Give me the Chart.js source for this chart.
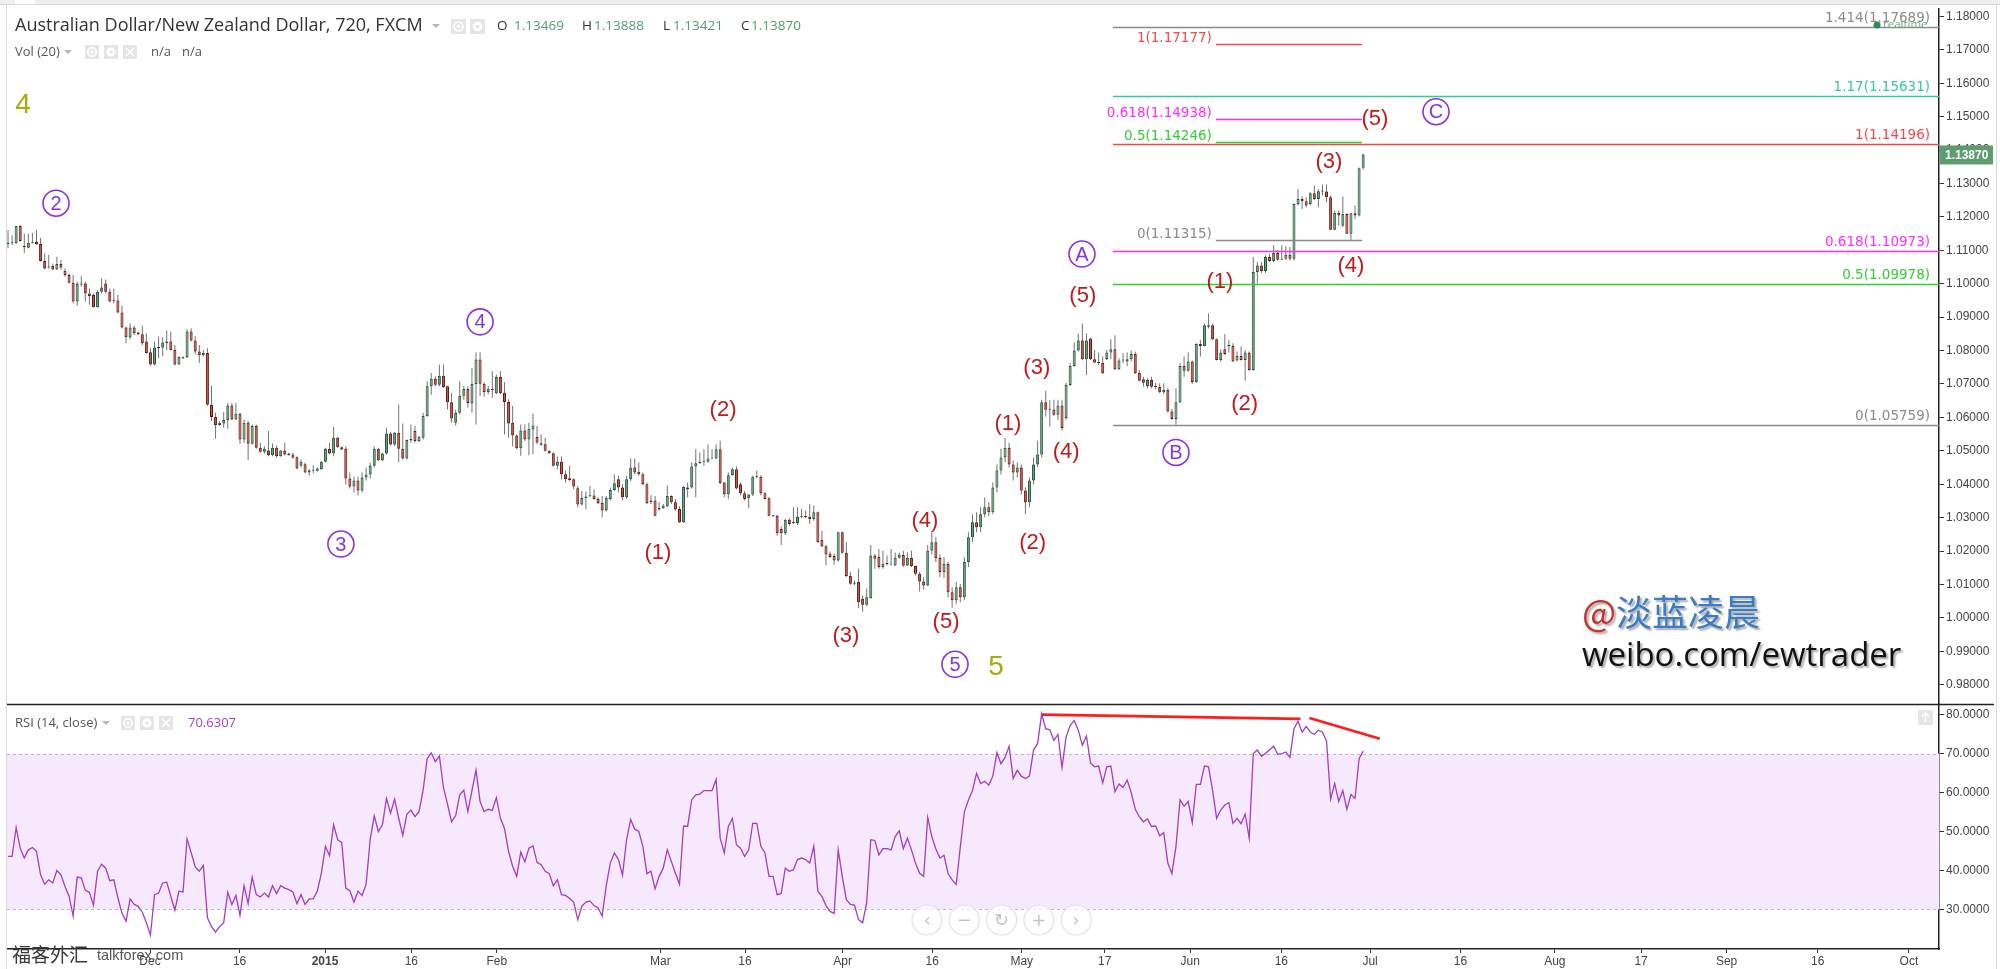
<!DOCTYPE html>
<html>
<head>
<meta charset="utf-8">
<script src="https://cdn.jsdelivr.net/npm/chart.js@4.4.1/dist/chart.umd.min.js"></script>
<style>
html, body { margin: 0; padding: 0; background: #fff; overflow: hidden; }
canvas { display: block; }
</style>
</head>
<body>
<canvas id="chart" width="2000" height="969"></canvas>
<script>
// AUD/NZD, 720 min bars (FXCM), Nov 2014 - Jun 2015
const opens = [
  1.1119,1.1121,1.1121,1.1173,1.1113,1.1108,1.1123,1.1126,1.1119,1.1068,
  1.1049,1.1053,1.1043,1.1059,1.1039,1.1026,1.1003,1.0947,1.0999,1.1001,
  1.0971,1.0966,1.0930,1.0976,1.1001,1.0976,1.0950,1.0950,1.0914,1.0869,
  1.0840,1.0869,1.0854,1.0849,1.0827,1.0795,1.0758,1.0809,1.0809,1.0822,
  1.0827,1.0802,1.0758,1.0780,1.0780,1.0857,1.0830,1.0797,1.0786,1.0793,
  1.0638,1.0601,1.0577,1.0582,1.0592,1.0636,1.0594,1.0611,1.0534,1.0584,
  1.0521,1.0574,1.0509,1.0497,1.0501,1.0487,1.0509,1.0484,1.0501,1.0492,
  1.0489,1.0481,1.0455,1.0460,1.0435,1.0440,1.0440,1.0445,1.0467,1.0506,
  1.0492,1.0539,1.0511,1.0506,1.0417,1.0393,1.0411,1.0381,1.0420,1.0429,
  1.0455,1.0506,1.0472,1.0492,1.0552,1.0519,1.0554,1.0506,1.0477,1.0531,
  1.0559,1.0529,1.0539,1.0604,1.0693,1.0716,1.0698,1.0725,1.0693,1.0645,
  1.0584,1.0614,1.0665,1.0685,1.0642,1.0700,1.0773,1.0701,1.0676,1.0684,
  1.0672,1.0721,1.0674,1.0646,1.0584,1.0546,1.0508,1.0561,1.0534,1.0564,
  1.0541,1.0523,1.0520,1.0500,1.0493,1.0455,1.0467,1.0430,1.0418,1.0415,
  1.0388,1.0339,1.0359,1.0364,1.0366,1.0356,1.0344,1.0321,1.0356,1.0383,
  1.0415,1.0390,1.0361,1.0415,1.0450,1.0437,1.0430,1.0400,1.0346,1.0351,
  1.0324,1.0328,1.0334,1.0365,1.0346,1.0326,1.0286,1.0390,1.0390,1.0453,
  1.0463,1.0467,1.0467,1.0477,1.0477,1.0505,1.0405,1.0370,1.0427,1.0445,
  1.0400,1.0373,1.0358,1.0369,1.0422,1.0422,1.0373,1.0358,1.0306,1.0306,
  1.0266,1.0253,1.0294,1.0284,1.0284,1.0303,1.0303,1.0303,1.0296,1.0316,
  1.0234,1.0214,1.0192,1.0185,1.0172,1.0256,1.0195,1.0125,1.0102,1.0107,
  1.0057,1.0039,1.0059,1.0187,1.0182,1.0152,1.0162,1.0160,1.0157,1.0180,
  1.0188,1.0157,1.0179,1.0155,1.0132,1.0109,1.0097,1.0202,1.0226,1.0179,
  1.0137,1.0161,1.0077,1.0053,1.0092,1.0062,1.0167,1.0241,1.0286,1.0271,
  1.0310,1.0331,1.0316,1.0390,1.0441,1.0480,1.0509,1.0459,1.0435,1.0450,
  1.0381,1.0346,1.0411,1.0459,1.0489,1.0645,1.0623,1.0623,1.0608,1.0636,
  1.0598,1.0697,1.0754,1.0800,1.0830,1.0774,1.0836,1.0774,1.0764,1.0763,
  1.0775,1.0794,1.0804,1.0744,1.0770,1.0767,1.0774,1.0790,1.0734,1.0714,
  1.0694,1.0712,1.0692,1.0691,1.0675,1.0682,1.0618,1.0595,1.0645,1.0754,
  1.0740,1.0767,1.0706,1.0820,1.0814,1.0871,1.0876,1.0834,1.0772,1.0804,
  1.0817,1.0814,1.0770,1.0784,1.0772,1.0794,1.0742,1.1035,1.1055,1.1038,
  1.1080,1.1068,1.1092,1.1072,1.1075,1.1087,1.1075,1.1239,1.1254,1.1247,
  1.1239,1.1271,1.1254,1.1277,1.1276,1.1259,1.1162,1.1212,1.1174,1.1209,
  1.1150,1.1211,1.1204,1.13469
];
const highs = [
  1.1160,1.1145,1.1173,1.1175,1.1150,1.1150,1.1152,1.1162,1.1138,1.1091,
  1.1086,1.1061,1.1081,1.1071,1.1046,1.1031,1.1026,1.1006,1.1023,1.1006,
  1.0986,1.0971,1.0981,1.1016,1.1013,1.0986,1.0986,1.0967,1.0934,1.0872,
  1.0882,1.0874,1.0857,1.0874,1.0852,1.0807,1.0827,1.0842,1.0840,1.0860,
  1.0857,1.0817,1.0783,1.0783,1.0864,1.0867,1.0844,1.0817,1.0802,1.0807,
  1.0695,1.0614,1.0589,1.0616,1.0643,1.0643,1.0643,1.0614,1.0594,1.0589,
  1.0579,1.0579,1.0524,1.0514,1.0559,1.0522,1.0516,1.0502,1.0524,1.0494,
  1.0494,1.0484,1.0474,1.0465,1.0445,1.0457,1.0450,1.0469,1.0509,1.0524,
  1.0571,1.0542,1.0514,1.0514,1.0435,1.0423,1.0423,1.0435,1.0450,1.0465,
  1.0514,1.0509,1.0494,1.0569,1.0556,1.0556,1.0638,1.0582,1.0534,1.0579,
  1.0574,1.0544,1.0614,1.0708,1.0733,1.0723,1.0758,1.0758,1.0695,1.0673,
  1.0624,1.0708,1.0693,1.0693,1.0748,1.0795,1.0795,1.0705,1.0694,1.0738,
  1.0728,1.0738,1.0705,1.0654,1.0634,1.0549,1.0579,1.0579,1.0584,1.0612,
  1.0574,1.0549,1.0539,1.0502,1.0495,1.0483,1.0483,1.0440,1.0455,1.0417,
  1.0395,1.0380,1.0378,1.0395,1.0385,1.0361,1.0365,1.0365,1.0390,1.0430,
  1.0425,1.0400,1.0425,1.0477,1.0477,1.0465,1.0435,1.0405,1.0367,1.0365,
  1.0346,1.0341,1.0397,1.0367,1.0356,1.0334,1.0395,1.0405,1.0465,1.0505,
  1.0495,1.0505,1.0520,1.0505,1.0520,1.0530,1.0407,1.0435,1.0450,1.0453,
  1.0405,1.0380,1.0370,1.0425,1.0440,1.0427,1.0377,1.0361,1.0308,1.0308,
  1.0274,1.0296,1.0298,1.0331,1.0331,1.0326,1.0321,1.0341,1.0336,1.0318,
  1.0261,1.0218,1.0199,1.0192,1.0258,1.0258,1.0226,1.0137,1.0112,1.0147,
  1.0067,1.0087,1.0218,1.0192,1.0206,1.0201,1.0187,1.0206,1.0196,1.0196,
  1.0201,1.0196,1.0201,1.0157,1.0137,1.0122,1.0218,1.0256,1.0241,1.0190,
  1.0182,1.0167,1.0092,1.0107,1.0101,1.0182,1.0256,1.0310,1.0316,1.0331,
  1.0360,1.0346,1.0405,1.0459,1.0506,1.0539,1.0524,1.0471,1.0465,1.0459,
  1.0390,1.0420,1.0480,1.0530,1.0653,1.0680,1.0651,1.0653,1.0653,1.0653,
  1.0704,1.0762,1.0824,1.0851,1.0881,1.0851,1.0838,1.0802,1.0794,1.0782,
  1.0802,1.0834,1.0846,1.0777,1.0792,1.0794,1.0800,1.0797,1.0742,1.0722,
  1.0717,1.0722,1.0704,1.0702,1.0702,1.0687,1.0625,1.0687,1.0762,1.0782,
  1.0794,1.0770,1.0822,1.0832,1.0881,1.0911,1.0881,1.0836,1.0804,1.0849,
  1.0832,1.0822,1.0797,1.0812,1.0802,1.0797,1.1080,1.1065,1.1065,1.1085,
  1.1090,1.1115,1.1102,1.1115,1.1112,1.1110,1.1241,1.1284,1.1261,1.1259,
  1.1274,1.1294,1.1284,1.1297,1.1297,1.1264,1.1219,1.1219,1.1261,1.1211,
  1.1211,1.1234,1.1348,1.13888
];
const lows = [
  1.1106,1.1116,1.1119,1.1126,1.1093,1.1106,1.1121,1.1116,1.1066,1.1043,
  1.1046,1.1041,1.1041,1.1043,1.1021,1.1001,1.0942,1.0934,1.0991,1.0947,
  1.0937,1.0929,1.0929,1.0971,1.0971,1.0944,1.0942,1.0912,1.0867,1.0822,
  1.0834,1.0847,1.0847,1.0817,1.0791,1.0755,1.0755,1.0778,1.0783,1.0802,
  1.0800,1.0755,1.0757,1.0775,1.0778,1.0827,1.0788,1.0763,1.0783,1.0635,
  1.0589,1.0536,1.0574,1.0569,1.0566,1.0592,1.0592,1.0521,1.0524,1.0472,
  1.0519,1.0506,1.0494,1.0492,1.0484,1.0484,1.0479,1.0482,1.0486,1.0486,
  1.0477,1.0445,1.0450,1.0433,1.0425,1.0433,1.0437,1.0443,1.0465,1.0489,
  1.0484,1.0509,1.0502,1.0399,1.0387,1.0375,1.0366,1.0375,1.0411,1.0417,
  1.0450,1.0469,1.0469,1.0489,1.0516,1.0514,1.0466,1.0474,1.0474,1.0524,
  1.0524,1.0526,1.0534,1.0602,1.0668,1.0693,1.0693,1.0688,1.0624,1.0584,
  1.0576,1.0609,1.0653,1.0629,1.0614,1.0579,1.0664,1.0662,1.0669,1.0659,
  1.0669,1.0669,1.0549,1.0539,1.0513,1.0505,1.0485,1.0529,1.0487,1.0490,
  1.0520,1.0515,1.0497,1.0491,1.0453,1.0445,1.0415,1.0405,1.0410,1.0385,
  1.0331,1.0336,1.0326,1.0361,1.0354,1.0341,1.0301,1.0318,1.0351,1.0380,
  1.0375,1.0351,1.0356,1.0410,1.0430,1.0425,1.0397,1.0341,1.0341,1.0304,
  1.0321,1.0326,1.0331,1.0341,1.0321,1.0284,1.0284,1.0361,1.0387,1.0361,
  1.0461,1.0455,1.0465,1.0475,1.0475,1.0400,1.0361,1.0356,1.0425,1.0385,
  1.0367,1.0351,1.0328,1.0365,1.0417,1.0367,1.0354,1.0304,1.0302,1.0246,
  1.0218,1.0248,1.0276,1.0281,1.0278,1.0298,1.0298,1.0281,1.0291,1.0224,
  1.0211,1.0157,1.0179,1.0159,1.0169,1.0192,1.0122,1.0099,1.0097,1.0029,
  1.0019,1.0035,1.0057,1.0147,1.0147,1.0147,1.0157,1.0157,1.0155,1.0177,
  1.0152,1.0155,1.0152,1.0127,1.0079,1.0085,1.0095,1.0190,1.0167,1.0122,
  1.0119,1.0062,1.0030,1.0041,1.0047,1.0053,1.0152,1.0226,1.0256,1.0256,
  1.0301,1.0304,1.0310,1.0375,1.0429,1.0465,1.0450,1.0411,1.0420,1.0369,
  1.0310,1.0331,1.0399,1.0450,1.0480,1.0603,1.0573,1.0605,1.0593,1.0561,
  1.0593,1.0694,1.0752,1.0797,1.0772,1.0727,1.0772,1.0762,1.0757,1.0730,
  1.0772,1.0774,1.0742,1.0742,1.0762,1.0754,1.0767,1.0730,1.0708,1.0692,
  1.0687,1.0687,1.0684,1.0673,1.0670,1.0615,1.0593,1.0578,1.0643,1.0722,
  1.0737,1.0700,1.0704,1.0782,1.0812,1.0866,1.0832,1.0770,1.0767,1.0787,
  1.0794,1.0766,1.0767,1.0770,1.0710,1.0740,1.0740,1.1001,1.1032,1.1032,
  1.1065,1.1065,1.1070,1.1072,1.1072,1.1070,1.1070,1.1234,1.1224,1.1229,
  1.1234,1.1251,1.1229,1.1264,1.1244,1.1160,1.1160,1.1174,1.1171,1.1148,
  1.1132,1.1194,1.1201,1.13421
];
const closes = [
  1.1123,1.1122,1.1173,1.1128,1.1109,1.1123,1.1124,1.1118,1.1068,1.1046,
  1.1051,1.1043,1.1059,1.1049,1.1026,1.1003,1.0947,1.1001,1.0998,1.0971,
  1.0963,1.0930,1.0976,1.0989,1.0976,1.0947,1.0949,1.0914,1.0869,1.0840,
  1.0869,1.0852,1.0849,1.0822,1.0793,1.0758,1.0809,1.0808,1.0824,1.0827,
  1.0802,1.0758,1.0781,1.0776,1.0857,1.0830,1.0797,1.0786,1.0793,1.0638,
  1.0601,1.0577,1.0584,1.0592,1.0636,1.0594,1.0611,1.0534,1.0584,1.0521,
  1.0574,1.0509,1.0497,1.0506,1.0487,1.0509,1.0484,1.0501,1.0489,1.0487,
  1.0479,1.0447,1.0467,1.0435,1.0442,1.0441,1.0447,1.0467,1.0506,1.0492,
  1.0539,1.0511,1.0504,1.0417,1.0393,1.0411,1.0381,1.0420,1.0429,1.0455,
  1.0506,1.0472,1.0492,1.0552,1.0519,1.0554,1.0506,1.0477,1.0532,1.0536,
  1.0529,1.0542,1.0604,1.0693,1.0716,1.0698,1.0725,1.0691,1.0645,1.0597,
  1.0614,1.0665,1.0685,1.0643,1.0700,1.0773,1.0701,1.0676,1.0686,1.0682,
  1.0721,1.0672,1.0646,1.0582,1.0546,1.0508,1.0561,1.0534,1.0566,1.0576,
  1.0525,1.0518,1.0500,1.0493,1.0455,1.0467,1.0430,1.0415,1.0413,1.0393,
  1.0339,1.0359,1.0363,1.0366,1.0356,1.0344,1.0321,1.0359,1.0383,1.0403,
  1.0390,1.0361,1.0415,1.0450,1.0435,1.0430,1.0400,1.0343,1.0351,1.0306,
  1.0329,1.0336,1.0365,1.0346,1.0324,1.0286,1.0392,1.0385,1.0453,1.0463,
  1.0467,1.0468,1.0477,1.0478,1.0505,1.0403,1.0370,1.0427,1.0445,1.0387,
  1.0373,1.0356,1.0369,1.0422,1.0421,1.0373,1.0356,1.0306,1.0304,1.0253,
  1.0253,1.0294,1.0281,1.0288,1.0303,1.0304,1.0302,1.0296,1.0316,1.0226,
  1.0214,1.0190,1.0182,1.0172,1.0256,1.0195,1.0125,1.0102,1.0105,1.0047,
  1.0039,1.0062,1.0187,1.0177,1.0152,1.0162,1.0161,1.0161,1.0180,1.0189,
  1.0157,1.0179,1.0155,1.0132,1.0109,1.0097,1.0201,1.0226,1.0179,1.0137,
  1.0161,1.0077,1.0053,1.0092,1.0062,1.0167,1.0241,1.0286,1.0271,1.0310,
  1.0331,1.0316,1.0390,1.0441,1.0480,1.0509,1.0459,1.0435,1.0450,1.0381,
  1.0346,1.0411,1.0459,1.0489,1.0645,1.0623,1.0625,1.0608,1.0636,1.0568,
  1.0697,1.0754,1.0800,1.0830,1.0774,1.0830,1.0774,1.0764,1.0763,1.0732,
  1.0794,1.0804,1.0744,1.0770,1.0772,1.0774,1.0790,1.0732,1.0710,1.0704,
  1.0712,1.0692,1.0691,1.0675,1.0682,1.0618,1.0595,1.0645,1.0754,1.0740,
  1.0767,1.0706,1.0820,1.0814,1.0876,1.0876,1.0834,1.0772,1.0794,1.0790,
  1.0814,1.0767,1.0784,1.0772,1.0794,1.0742,1.1035,1.1055,1.1038,1.1080,
  1.1068,1.1092,1.1072,1.1075,1.1087,1.1075,1.1239,1.1254,1.1247,1.1234,
  1.1271,1.1254,1.1277,1.1276,1.1259,1.1162,1.1212,1.1204,1.1209,1.1150,
  1.1211,1.1204,1.1346,1.13870
];
// RSI (14, close), one value per bar
const rsi = [
  43.6,43.6,51.0,45.7,43.2,45.3,45.9,44.9,38.9,36.5,
  37.6,36.8,40.0,38.9,35.9,33.4,28.3,38.3,38.1,34.9,
  34.4,31.1,39.8,41.6,40.6,37.4,37.6,33.0,29.0,27.0,
  32.7,31.3,30.8,29.3,26.6,23.4,33.8,34.2,36.8,37.0,
  33.4,29.8,34.7,34.5,48.1,44.6,40.9,39.8,41.3,27.9,
  25.6,24.2,25.6,26.6,34.4,31.3,33.6,28.5,36.1,31.5,
  38.3,33.8,33.2,34.2,33.2,36.1,34.1,36.1,35.5,35.1,
  34.5,31.5,33.8,31.3,32.7,32.7,34.7,39.3,46.2,43.8,
  51.7,47.9,47.2,35.5,34.8,31.9,34.7,33.6,36.5,48.0,
  54.0,50.0,51.7,58.5,54.7,58.3,53.4,49.0,54.4,55.5,
  53.8,55.1,60.6,68.7,70.2,67.9,69.4,61.3,57.0,52.5,
  54.1,59.4,60.6,55.1,60.5,65.7,57.7,55.1,55.7,55.4,
  58.7,53.4,50.8,44.9,41.1,38.5,44.7,42.2,45.7,46.3,
  42.1,41.5,39.8,39.2,36.1,37.6,33.8,33.6,32.8,31.9,
  27.4,30.8,31.9,32.2,31.0,30.4,28.3,36.1,41.9,44.5,
  42.8,38.8,47.9,53.1,50.6,50.0,46.2,39.2,39.8,35.3,
  38.5,40.6,45.3,42.3,39.3,36.5,51.4,51.3,58.1,59.4,
  59.6,60.5,60.5,60.5,63.4,48.3,44.5,51.3,53.4,46.6,
  45.7,43.6,45.3,52.1,52.1,46.2,44.5,38.5,38.5,33.8,
  34.1,40.6,39.8,40.2,42.8,43.2,42.8,41.9,46.2,34.7,
  33.4,31.0,29.5,29.0,45.3,38.5,32.5,31.3,31.1,27.4,
  26.6,31.7,47.9,47.7,44.0,45.6,45.6,45.3,48.7,50.2,
  45.6,48.3,45.3,41.9,39.3,38.5,53.6,48.7,45.5,43.2,
  43.9,39.2,37.6,36.4,46.0,55.0,58.1,60.5,64.9,62.3,
  62.9,61.9,64.2,70.2,67.4,69.0,71.9,63.6,65.7,64.2,
  63.6,64.2,70.9,72.6,80.2,76.4,76.1,73.4,74.9,66.4,
  74.3,77.2,78.5,76.0,72.1,74.5,67.6,66.6,66.8,62.5,
  66.6,66.8,60.2,62.2,61.3,63.2,60.0,55.7,53.8,52.5,
  53.2,51.3,51.4,48.9,49.7,41.9,39.2,46.2,58.1,56.5,
  57.7,52.3,62.1,62.1,66.8,66.6,60.5,53.4,55.5,56.8,
  57.4,52.1,53.4,52.0,54.5,48.3,70.0,70.9,69.3,70.0,
  71.0,71.9,69.8,70.0,70.4,69.0,76.4,78.3,75.5,77.0,
  75.5,74.9,76.0,75.5,73.2,58.3,62.3,57.7,60.5,55.7,
  59.5,58.5,68.7,70.63
];

// time axis: bar index where each date label falls (weekends skipped, extends into the future)
const tickBars = [34.9, 56.9, 77.9, 99.1, 120.1, 160.3, 181.1, 205.1, 227.1, 249.1,
                  269.5, 290.5, 312.9, 334.7, 356.9, 380.1, 401.3, 422.3, 444.7, 467.1];
const tickLabels = ['Dec', '16', '2015', '16', 'Feb', 'Mar', '16', 'Apr', '16', 'May',
                    '17', 'Jun', '16', 'Jul', '16', 'Aug', '17', 'Sep', '16', 'Oct'];
const priceTicks = [0.98, 0.99, 1.00, 1.01, 1.02, 1.03, 1.04, 1.05, 1.06, 1.07, 1.08,
                    1.09, 1.10, 1.11, 1.12, 1.13, 1.14, 1.15, 1.16, 1.17, 1.18];
const rsiTicks = [30, 40, 50, 60, 70, 80];

// fibonacci levels
const fibLongText = ['1.414(1.17689)', '1.17(1.15631)', '1(1.14196)', '0.618(1.10973)', '0.5(1.09978)', '0(1.05759)'];
const fibLongPrice = [1.17689, 1.15631, 1.14196, 1.10973, 1.09978, 1.05759];
const fibLongFrom = 271.5;
const fibShortText = ['1(1.17177)', '0.618(1.14938)', '0.5(1.14246)', '0(1.11315)'];
const fibShortPrice = [1.17177, 1.14938, 1.14246, 1.11315];
const fibShortBars = [296.8, 332.7];

// elliott wave marks: bar index + price where each label sits
const waveText = ['(1)', '(2)', '(3)', '(4)', '(5)', '(1)', '(2)', '(3)', '(4)', '(5)', '(1)', '(2)', '(3)', '(4)', '(5)'];
const waveBar = [159.7, 175.7, 205.9, 225.3, 230.5, 245.7, 251.8, 252.8, 260.0, 264.1, 297.8, 303.9, 324.6, 330.0, 335.9];
const wavePrice = [1.0194, 1.0621, 0.9947, 1.0289, 0.9989, 1.0579, 1.0224, 1.0749, 1.0498, 1.0963, 1.1005, 1.0639, 1.1366, 1.1053, 1.1494];
const circleText = ['2', '3', '4', '5', 'A', 'B', 'C'];
const circleBar = [11.8, 81.8, 116.0, 232.7, 263.9, 287.0, 350.9];
const circlePrice = [1.1241, 1.0221, 1.0886, 0.9861, 1.1089, 1.0495, 1.1515];
const degreeText = ['4', '5'];
const degreeBar = [3.7, 242.8];
const degreePrice = [1.1533, 0.9852];

// rsi divergence lines
const rsiLineBars = [[254.0, 317.6], [319.8, 337.1]];
const rsiLineVals = [[80.0, 78.9], [79.1, 73.8]];

const UP = '#6ba583', DOWN = '#d75442', UP_B = '#225437', DOWN_B = '#5b1a13';
const FIB_LONG_COL = ['#8a8a8a', '#33cc99', '#f24a4a', '#ff2bff', '#33cc33', '#8a8a8a'];
const FIB_SHORT_COL = ['#f24a4a', '#ff2bff', '#33cc33', '#8a8a8a'];
const SANS = '"Liberation Sans", Arial, sans-serif';

const bodies = opens.map((o, i) => ({ x: i, y: [o, closes[i]] }));
const wicks = lows.map((l, i) => ({ x: i, y: [l, highs[i]] }));
const rsiPts = rsi.map((v, i) => ({ x: i, y: v }));
const isUp = i => closes[i] >= opens[i];

function icon(ctx, x, y, s, kind) {
  ctx.save();
  ctx.fillStyle = '#e5e5e5';
  ctx.fillRect(x, y, s, s);
  ctx.strokeStyle = '#fff';
  ctx.fillStyle = '#fff';
  ctx.lineWidth = 1.5;
  const cx = x + s / 2, cy = y + s / 2;
  ctx.beginPath();
  if (kind === 'eye') {
    ctx.arc(cx, cy, s * 0.3, 0, Math.PI * 2);
    ctx.stroke();
    ctx.beginPath();
    ctx.arc(cx, cy, s * 0.12, 0, Math.PI * 2);
    ctx.fill();
  } else if (kind === 'gear') {
    ctx.arc(cx, cy, s * 0.32, 0, Math.PI * 2);
    ctx.fill();
    ctx.fillStyle = '#e5e5e5';
    ctx.beginPath();
    ctx.arc(cx, cy, s * 0.12, 0, Math.PI * 2);
    ctx.fill();
  } else {
    ctx.moveTo(cx - 4, cy - 4); ctx.lineTo(cx + 4, cy + 4);
    ctx.moveTo(cx + 4, cy - 4); ctx.lineTo(cx - 4, cy + 4);
    ctx.stroke();
  }
  ctx.restore();
}

function caret(ctx, x, y) {
  ctx.save();
  ctx.fillStyle = '#b8b8b8';
  ctx.beginPath();
  ctx.moveTo(x, y - 2); ctx.lineTo(x + 8, y - 2); ctx.lineTo(x + 4, y + 2);
  ctx.closePath();
  ctx.fill();
  ctx.restore();
}

const decor = {
  id: 'decor',
  beforeDatasetsDraw(chart) {
    const { ctx, chartArea: a, scales } = chart;
    const yr = scales.yr;
    const t70 = yr.getPixelForValue(70), t30 = yr.getPixelForValue(30);
    ctx.save();
    ctx.fillStyle = '#f6e9fd';
    ctx.fillRect(a.left, t70, a.right - a.left, t30 - t70);
    ctx.strokeStyle = '#c4b8c8';
    ctx.lineWidth = 1;
    ctx.setLineDash([3, 3]);
    [t70, t30].forEach(t => {
      ctx.beginPath();
      ctx.moveTo(a.left, Math.round(t) + 0.5);
      ctx.lineTo(a.right, Math.round(t) + 0.5);
      ctx.stroke();
    });
    ctx.restore();
  },
  afterDatasetsDraw(chart) {
    const { ctx, chartArea: a, scales } = chart;
    const x = scales.x, y = scales.y, yr = scales.yr;
    ctx.save();
    // fib lines
    ctx.lineWidth = 1.5;
    ctx.font = '13.5px "DejaVu Sans", sans-serif';
    ctx.textBaseline = 'bottom';
    fibLongPrice.forEach((p, i) => {
      const py = Math.round(y.getPixelForValue(p)) + 0.5;
      ctx.strokeStyle = FIB_LONG_COL[i];
      ctx.beginPath();
      ctx.moveTo(x.getPixelForValue(fibLongFrom), py);
      ctx.lineTo(a.right, py);
      ctx.stroke();
      ctx.fillStyle = FIB_LONG_COL[i];
      ctx.textAlign = 'right';
      ctx.fillText(fibLongText[i], a.right - 9, py - 2);
    });
    fibShortPrice.forEach((p, i) => {
      const py = Math.round(y.getPixelForValue(p)) + 0.5;
      const x0 = x.getPixelForValue(fibShortBars[0]), x1 = x.getPixelForValue(fibShortBars[1]);
      ctx.strokeStyle = FIB_SHORT_COL[i];
      ctx.beginPath();
      ctx.moveTo(x0, py);
      ctx.lineTo(x1, py);
      ctx.stroke();
      ctx.fillStyle = FIB_SHORT_COL[i];
      ctx.textAlign = 'right';
      ctx.fillText(fibShortText[i], x0 - 4, py + 1);
    });
    // wave labels
    ctx.textAlign = 'center';
    ctx.textBaseline = 'middle';
    ctx.font = '22px ' + SANS;
    ctx.fillStyle = '#bd1b1b';
    waveText.forEach((t, i) => ctx.fillText(t, x.getPixelForValue(waveBar[i]), y.getPixelForValue(wavePrice[i])));
    circleText.forEach((t, i) => {
      const cx = x.getPixelForValue(circleBar[i]), cy = y.getPixelForValue(circlePrice[i]);
      ctx.strokeStyle = '#8b34d6';
      ctx.lineWidth = 1.6;
      ctx.beginPath();
      ctx.arc(cx, cy, 13, 0, Math.PI * 2);
      ctx.stroke();
      ctx.fillStyle = '#8b34d6';
      ctx.font = '20px ' + SANS;
      ctx.fillText(t, cx, cy + 1);
    });
    ctx.font = '28px ' + SANS;
    ctx.fillStyle = '#aaaa0c';
    degreeText.forEach((t, i) => ctx.fillText(t, x.getPixelForValue(degreeBar[i]), y.getPixelForValue(degreePrice[i])));
    // rsi divergence lines
    ctx.strokeStyle = '#ff1c1c';
    ctx.lineWidth = 2.6;
    rsiLineBars.forEach((b, i) => {
      ctx.beginPath();
      ctx.moveTo(x.getPixelForValue(b[0]), yr.getPixelForValue(rsiLineVals[i][0]));
      ctx.lineTo(x.getPixelForValue(b[1]), yr.getPixelForValue(rsiLineVals[i][1]));
      ctx.stroke();
    });
    ctx.restore();
  },
  afterDraw(chart) {
    const { ctx, chartArea: a, scales } = chart;
    const yr = scales.yr;
    const split = Math.round(yr.top) + 0.5;
    ctx.save();
    // frame
    ctx.fillStyle = '#eceef0';
    ctx.fillRect(0, 0, 2000, 4);
    ctx.fillStyle = '#fff';
    ctx.fillRect(15, 0, 20, 4);
    ctx.strokeStyle = '#d8dadc';
    ctx.lineWidth = 1;
    ctx.beginPath();
    ctx.moveTo(0, 4.5); ctx.lineTo(2000, 4.5);
    ctx.moveTo(6.5, 4); ctx.lineTo(6.5, 969);
    ctx.moveTo(1996.5, 4); ctx.lineTo(1996.5, 969);
    ctx.stroke();
    ctx.strokeStyle = '#222';
    ctx.lineWidth = 1.5;
    ctx.beginPath();
    ctx.moveTo(a.left, split); ctx.lineTo(1994, split);
    ctx.stroke();
    // headers
    ctx.textBaseline = 'middle';
    ctx.textAlign = 'left';
    ctx.fillStyle = '#333';
    ctx.font = '18px "Open Sans", sans-serif';
    ctx.fillText('Australian Dollar/New Zealand Dollar, 720, FXCM', 15, 26);
    caret(ctx, 432, 26);
    icon(ctx, 451, 19, 15, 'eye');
    icon(ctx, 470, 19, 15, 'gear');
    ctx.font = '13.5px "Open Sans", sans-serif';
    const ohlc = [['O', 497], ['1.13469', 514], ['H', 582], ['1.13888', 594], ['L', 663], ['1.13421', 673], ['C', 741], ['1.13870', 751]];
    ohlc.forEach(([t, px], i) => {
      ctx.fillStyle = i % 2 ? '#4f9d72' : '#333';
      ctx.fillText(t, px, 26);
    });
    ctx.font = '13px "Open Sans", sans-serif';
    ctx.fillStyle = '#555';
    ctx.fillText('Vol (20)', 15, 52);
    caret(ctx, 64, 52);
    icon(ctx, 85, 45, 14, 'eye');
    icon(ctx, 104, 45, 14, 'gear');
    icon(ctx, 123, 45, 14, 'x');
    ctx.fillStyle = '#555';
    ctx.fillText('n/a', 151, 52);
    ctx.fillText('n/a', 182, 52);
    const rh = Math.round(yr.top) + 19;
    ctx.fillText('RSI (14, close)', 15, rh);
    caret(ctx, 102, rh);
    icon(ctx, 121, rh - 7, 14, 'eye');
    icon(ctx, 140, rh - 7, 14, 'gear');
    icon(ctx, 159, rh - 7, 14, 'x');
    ctx.fillStyle = '#a33fc4';
    ctx.fillText('70.6307', 188, rh);
    // rsi pane arrow button
    ctx.fillStyle = '#e6e6e6';
    ctx.fillRect(1918, yr.top + 6, 15, 15);
    ctx.strokeStyle = '#fff';
    ctx.lineWidth = 1.5;
    ctx.beginPath();
    ctx.moveTo(1925.5, yr.top + 18); ctx.lineTo(1925.5, yr.top + 9);
    ctx.moveTo(1922, yr.top + 12.5); ctx.lineTo(1925.5, yr.top + 9); ctx.lineTo(1929, yr.top + 12.5);
    ctx.stroke();
    // last price tag + realtime
    const ly = scales.y.getPixelForValue(closes[closes.length - 1]);
    ctx.fillStyle = '#5e9c70';
    ctx.fillRect(a.right + 1, ly - 9, 53, 19);
    ctx.fillStyle = '#fff';
    ctx.font = 'bold 12px ' + SANS;
    ctx.fillText(closes[closes.length - 1].toFixed(5), a.right + 6, ly + 1);
    ctx.fillStyle = '#2e8b57';
    ctx.beginPath();
    ctx.arc(1877, 25, 3.5, 0, Math.PI * 2);
    ctx.fill();
    ctx.fillStyle = '#6aaa8a';
    ctx.font = '11.5px "Open Sans", sans-serif';
    ctx.fillText('realtime', 1883, 25);
    // watermark
    ctx.shadowColor = 'rgba(0,0,0,0.35)';
    ctx.shadowOffsetX = 2;
    ctx.shadowOffsetY = 2;
    ctx.shadowBlur = 2;
    ctx.font = '36px "Noto Sans CJK SC", sans-serif';
    ctx.fillStyle = '#c8322f';
    ctx.fillText('@', 1582, 612);
    const atW = ctx.measureText('@').width;
    ctx.fillStyle = '#3b7cc4';
    ctx.fillText('淡蓝凌晨', 1582 + atW, 612);
    ctx.fillStyle = '#111';
    ctx.font = '33px "Open Sans", sans-serif';
    ctx.fillText('weibo.com/ewtrader', 1582, 657);
    ctx.shadowColor = 'transparent';
    // talkforex mark
    ctx.fillStyle = '#3a3a3a';
    ctx.font = '19px "Noto Sans CJK SC", sans-serif';
    ctx.fillText('福客外汇', 12, 955);
    ctx.fillStyle = '#555';
    ctx.font = '14.5px ' + SANS;
    ctx.fillText('talkforex.com', 97, 956);
    // navigation buttons
    const navY = 920;
    ['‹', '−', '↻', '+', '›'].forEach((g, i) => {
      const cx = 927 + i * 37.3;
      ctx.fillStyle = 'rgba(255,255,255,0.7)';
      ctx.strokeStyle = '#e2e2e2';
      ctx.lineWidth = 1.2;
      ctx.beginPath();
      ctx.arc(cx, navY, 15, 0, Math.PI * 2);
      ctx.fill();
      ctx.stroke();
      ctx.fillStyle = '#c4c4c4';
      ctx.font = '18px "DejaVu Sans", sans-serif';
      ctx.textAlign = 'center';
      ctx.fillText(g, cx, navY + 1);
    });
    ctx.restore();
  }
};

new Chart(document.getElementById('chart'), {
  data: {
    datasets: [
      {
        type: 'bar', data: wicks, yAxisID: 'y', grouped: false, order: 3,
        barThickness: 1, backgroundColor: '#737375', borderWidth: 0, inflateAmount: 0
      },
      {
        type: 'bar', data: bodies, yAxisID: 'y', grouped: false, order: 2,
        barThickness: 3, minBarLength: 1, borderWidth: 1, inflateAmount: 0, borderSkipped: false,
        backgroundColor: c => isUp(c.dataIndex) ? UP : DOWN,
        borderColor: c => isUp(c.dataIndex) ? UP_B : DOWN_B
      },
      {
        type: 'line', data: rsiPts, yAxisID: 'yr', order: 1,
        borderColor: '#a13ec2', borderWidth: 1.3, pointRadius: 0, tension: 0
      }
    ]
  },
  options: {
    responsive: false,
    animation: false,
    devicePixelRatio: 1,
    layout: { padding: { left: 7, top: 5, right: 0, bottom: 0 } },
    plugins: { legend: { display: false }, tooltip: { enabled: false } },
    scales: {
      x: {
        type: 'linear', min: -0.25, max: 474.5, offset: false,
        afterBuildTicks: s => { s.ticks = tickBars.map(v => ({ value: v })); },
        afterFit: s => { s.height = 20; },
        ticks: {
          autoSkip: false, maxRotation: 0, padding: 1, color: '#444',
          callback: (v, i) => tickLabels[i],
          font: c => ({ family: SANS, size: 12, weight: tickLabels[c.index] === '2015' ? 'bold' : 'normal' })
        },
        grid: { drawOnChartArea: false, tickLength: 4, color: '#333', offset: false },
        border: { color: '#222', width: 1.5 }
      },
      y: {
        type: 'linear', position: 'right', stack: 'panes', stackWeight: 698,
        min: 0.97419, max: 1.18218,
        afterBuildTicks: s => { s.ticks = priceTicks.map(v => ({ value: v })); },
        afterFit: s => { s.width = 61; },
        ticks: { color: '#444', padding: 2, font: { family: SANS, size: 12 }, callback: v => v.toFixed(5) },
        grid: { drawOnChartArea: false, tickLength: 5, color: '#333' },
        border: { color: '#222', width: 1.5 }
      },
      yr: {
        type: 'linear', position: 'right', stack: 'panes', stackWeight: 246,
        min: 19.86, max: 82.69,
        afterBuildTicks: s => { s.ticks = rsiTicks.map(v => ({ value: v })); },
        afterFit: s => { s.width = 61; },
        ticks: { color: '#444', padding: 2, font: { family: SANS, size: 12 }, callback: v => v.toFixed(4) },
        grid: { drawOnChartArea: false, tickLength: 5, color: '#333' },
        border: { color: '#222', width: 1.5 }
      }
    }
  },
  plugins: [decor]
});
</script>
</body>
</html>
